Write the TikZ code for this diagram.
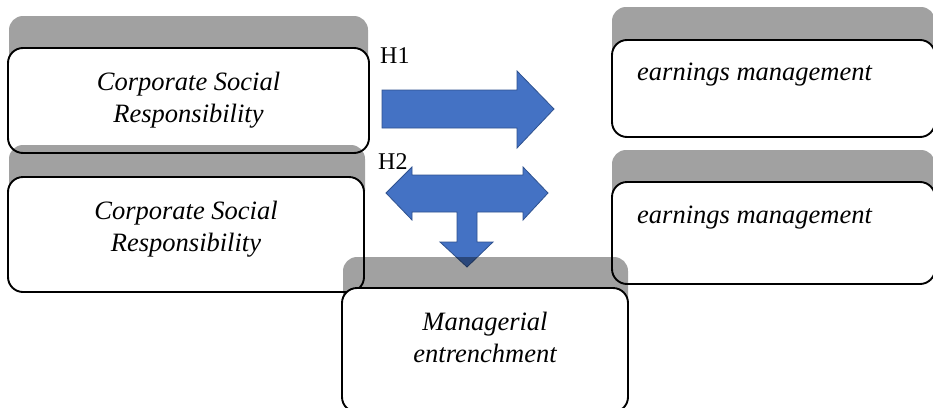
\documentclass[tikz,border=0pt]{standalone}
\usepackage{fontspec}
\setmainfont{Liberation Serif}
\definecolor{arrowblue}{HTML}{4472C4}
\definecolor{arrowedge}{HTML}{2F528F}
\begin{document}
\begin{tikzpicture}[x=1pt,y=-1pt,
  tab/.style={fill=black,fill opacity=0.37,draw=none,rounded corners=14pt,inner sep=0pt},
  box/.style={draw=black,line width=1.9pt,fill=white,rounded corners=15pt,inner sep=0pt},
  lbl/.style={font=\fontsize{26.5}{31.8}\selectfont\itshape,anchor=base,inner sep=0pt},
  lbll/.style={font=\fontsize{26.5}{31.8}\selectfont\itshape,anchor=base west,inner sep=0pt},
  hlbl/.style={font=\fontsize{24}{28}\selectfont,anchor=base west,inner sep=0pt},
  blockarrow/.style={fill=arrowblue,draw=arrowedge,line width=0.8pt,line join=miter}]
\clip (0,0) rectangle (933,407);
\fill[white] (0,0) rectangle (933,407);

% box 1
\node[tab, minimum width=359pt, minimum height=60pt] (g1) at (188.5,46) {};
\node[box, minimum width=361pt, minimum height=105pt] (b1) at (188.5,100.5) {};
% box 2
\node[tab, minimum width=356pt, minimum height=60pt] (g2) at (187,175) {};
\node[box, minimum width=356pt, minimum height=115pt] (b2) at (186,234.5) {};
% right boxes
\node[tab, minimum width=323pt, minimum height=60pt] (g3) at (773.5,37) {};
\node[box, minimum width=323pt, minimum height=97pt] (r1) at (773.5,88.5) {};
\node[tab, minimum width=323pt, minimum height=60pt] (g4) at (773.5,180) {};
\node[box, minimum width=323pt, minimum height=102pt] (r2) at (773.5,233) {};

% arrows
\draw[blockarrow] (382,90) -- (517,90) -- (517,71) -- (554,109) -- (517,148) -- (517,128) -- (382,128) -- cycle;
\draw[blockarrow] (386,193) -- (412,167) -- (412,175) -- (523,175) -- (523,167) -- (548,193)
  -- (523,220) -- (523,212) -- (477,212) -- (477,242) -- (493,242) -- (467,267) -- (440,242)
  -- (457,242) -- (457,212) -- (412,212) -- (412,220) -- cycle;

% bottom box
\node[tab, minimum width=285pt, minimum height=60pt] (g5) at (485.5,287) {};
\node[box, minimum width=286pt, minimum height=124pt] (m) at (485,350) {};

% texts
\node[lbl] (t1a) at (188.5,90) {Corporate Social};
\node[lbl] (t1b) at (188.5,122) {Responsibility};
\node[lbl] (t2a) at (186,219) {Corporate Social};
\node[lbl] (t2b) at (186,251) {Responsibility};
\node[lbll] (e1) at (637,80) {earnings management};
\node[lbll] (e2) at (637,223) {earnings management};
\node[lbl] (m1) at (485,330) {Managerial};
\node[lbl] (m2) at (485,362) {entrenchment};
\node[hlbl] (h1) at (380,63) {H1};
\node[hlbl] (h2) at (378,169) {H2};
\end{tikzpicture}
\end{document}
